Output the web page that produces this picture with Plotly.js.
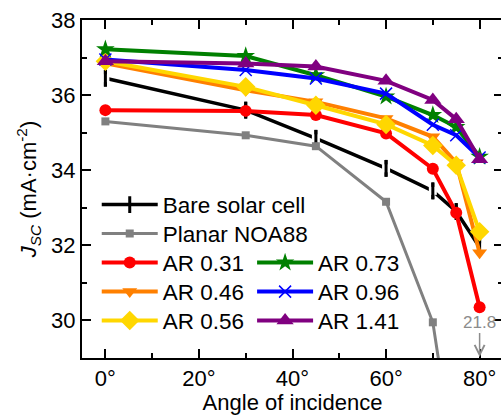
<!DOCTYPE html>
<html>
<head>
<meta charset="utf-8">
<script src="https://cdn.plot.ly/plotly-3.0.1.min.js"></script>
<style>
  html, body { margin: 0; padding: 0; overflow: hidden; background: #fff; }
  #chart { width: 503px; height: 415px; }
</style>
</head>
<body>
<div id="chart"></div>
<script>
// Angle of incidence (degrees)
const angles = [0, 30, 45, 60, 70, 75, 80];

// Short-circuit current density J_SC (mA/cm^2) for each sample
const bareCell = [36.45, 35.6, 34.85, 34.05, 33.45, 32.9, 31.95];
const planarNOA88 = [35.3, 34.93, 34.64, 33.16, 29.95, null, 21.8];
const ar031 = [35.6, 35.58, 35.47, 34.98, 34.04, 32.87, 30.35];
const ar046 = [36.85, 36.13, 35.82, 35.38, 34.89, 34.2, 31.8];
const ar056 = [36.9, 36.22, 35.73, 35.22, 34.66, 34.13, 32.36];
const ar073 = [37.22, 37.04, 36.53, 35.96, 35.47, 35.15, 34.36];
const ar096 = [36.95, 36.67, 36.44, 36.04, 35.21, 34.93, 34.34];
const ar141 = [36.9, 36.84, 36.76, 36.38, 35.87, 35.36, 34.29];

const xTickVals = [0, 20, 40, 60, 80];
const xTickText = ['0°', '20°', '40°', '60°', '80°'];
const yTickVals = [30, 32, 34, 36, 38];

const FONT = 'Liberation Sans, Arial, sans-serif';

function series(name, y, color, symbol, size, legend, extra) {
  return Object.assign({
    type: 'scatter', mode: 'lines+markers', name: name,
    x: angles, y: y, connectgaps: true, legend: legend,
    line: { color: color, width: 4 },
    marker: { color: color, symbol: symbol, size: size, line: { width: 0 } },
    cliponaxis: true
  }, extra || {});
}

const traces = [
  // bare cell: line with tick markers, small gaps around each symbol
  series('Bare solar cell', bareCell, '#000000', 'line-ns-open', 12, 'legend',
    { line: { color: '#000000', width: 3.5 }, marker: { color: '#000000', symbol: 'line-ns-open', size: 12, line: { width: 3, color: '#000000' } } }),
  { type: 'scatter', mode: 'markers', x: angles, y: bareCell, showlegend: false, hoverinfo: 'skip',
    marker: { symbol: 'square', size: 8, color: '#ffffff', line: { width: 0 } } },
  { type: 'scatter', mode: 'markers', x: angles, y: bareCell, showlegend: false, hoverinfo: 'skip',
    marker: { symbol: 'line-ns-open', size: 12, color: '#000000', line: { width: 3, color: '#000000' } } },
  series('Planar NOA88', planarNOA88, '#808080', 'square', 8, 'legend2',
    { line: { color: '#808080', width: 3 } }),
  series('AR 0.31', ar031, '#ff0000', 'circle', 12, 'legend3'),
  series('AR 0.46', ar046, '#ff8000', 'triangle-down', 13, 'legend4'),
  series('AR 0.56', ar056, '#ffd700', 'diamond', 15, 'legend5'),
  series('AR 0.73', ar073, '#008000', 'star', 14, 'legend6'),
  series('AR 0.96', ar096, '#0000ff', 'x-thin-open', 12, 'legend7',
    { marker: { color: '#0000ff', symbol: 'x-thin-open', size: 12, line: { width: 1.5, color: '#0000ff' } } }),
  series('AR 1.41', ar141, '#800080', 'triangle-up', 15, 'legend8')
];

const axisCommon = {
  showline: true, linecolor: '#000', linewidth: 2, mirror: 'allticks',
  ticks: 'inside', ticklen: 9, tickwidth: 2, tickcolor: '#000',
  showgrid: false, zeroline: false,
  tickfont: { family: FONT, size: 22, color: '#000' }
};

const legendFont = { family: FONT, size: 22.5, color: '#000' };

// legend entries laid out in two columns; each entry is its own legend box
const legendCols = [0.035, 0.035, 0.035, 0.035, 0.035, 0.404, 0.404, 0.404];
const legendRows = [0.4527, 0.3669, 0.2811, 0.1953, 0.1095, 0.2811, 0.1953, 0.1095];

const layout = {
  width: 503, height: 415,
  margin: { l: 82, r: 0, t: 20, b: 57 },
  paper_bgcolor: '#fff', plot_bgcolor: '#fff',
  font: { family: FONT, size: 22, color: '#000' },
  xaxis: Object.assign({}, axisCommon, {
    range: [-5, 85], tickvals: xTickVals, ticktext: xTickText,
    minor: { tickvals: [10, 30, 50, 70], ticks: 'inside', ticklen: 5, tickwidth: 2, tickcolor: '#000' },
    title: { text: 'Angle of incidence', font: { family: FONT, size: 22, color: '#000' }, standoff: 4 }
  }),
  yaxis: Object.assign({}, axisCommon, {
    range: [29, 38], tickvals: yTickVals,
    minor: { tickvals: [31, 33, 35, 37], ticks: 'inside', ticklen: 5, tickwidth: 2, tickcolor: '#000' },
    title: { text: '<i>J</i><sub><i>SC</i></sub> (mA·cm<sup>-2</sup>)', font: { family: FONT, size: 22, color: '#000' }, standoff: 8 }
  }),
  annotations: [{
    x: 80, y: 29, xref: 'x', yref: 'y',
    text: String(planarNOA88[6]),
    showarrow: true, arrowhead: 5, arrowsize: 1.3, arrowwidth: 1.5, arrowcolor: '#8c8c8c',
    ax: 0, ay: -36, standoff: 1,
    font: { family: FONT, size: 17, color: '#8c8c8c' }
  }],
  showlegend: true
};

legendCols.forEach(function (lx, i) {
  const key = i === 0 ? 'legend' : 'legend' + (i + 1);
  layout[key] = {
    x: lx, y: legendRows[i], xanchor: 'left', yanchor: 'middle',
    bgcolor: 'rgba(0,0,0,0)', borderwidth: 0, itemwidth: 56,
    font: legendFont
  };
});

Plotly.newPlot('chart', traces, layout, { displayModeBar: false, staticPlot: true });
</script>
</body>
</html>
